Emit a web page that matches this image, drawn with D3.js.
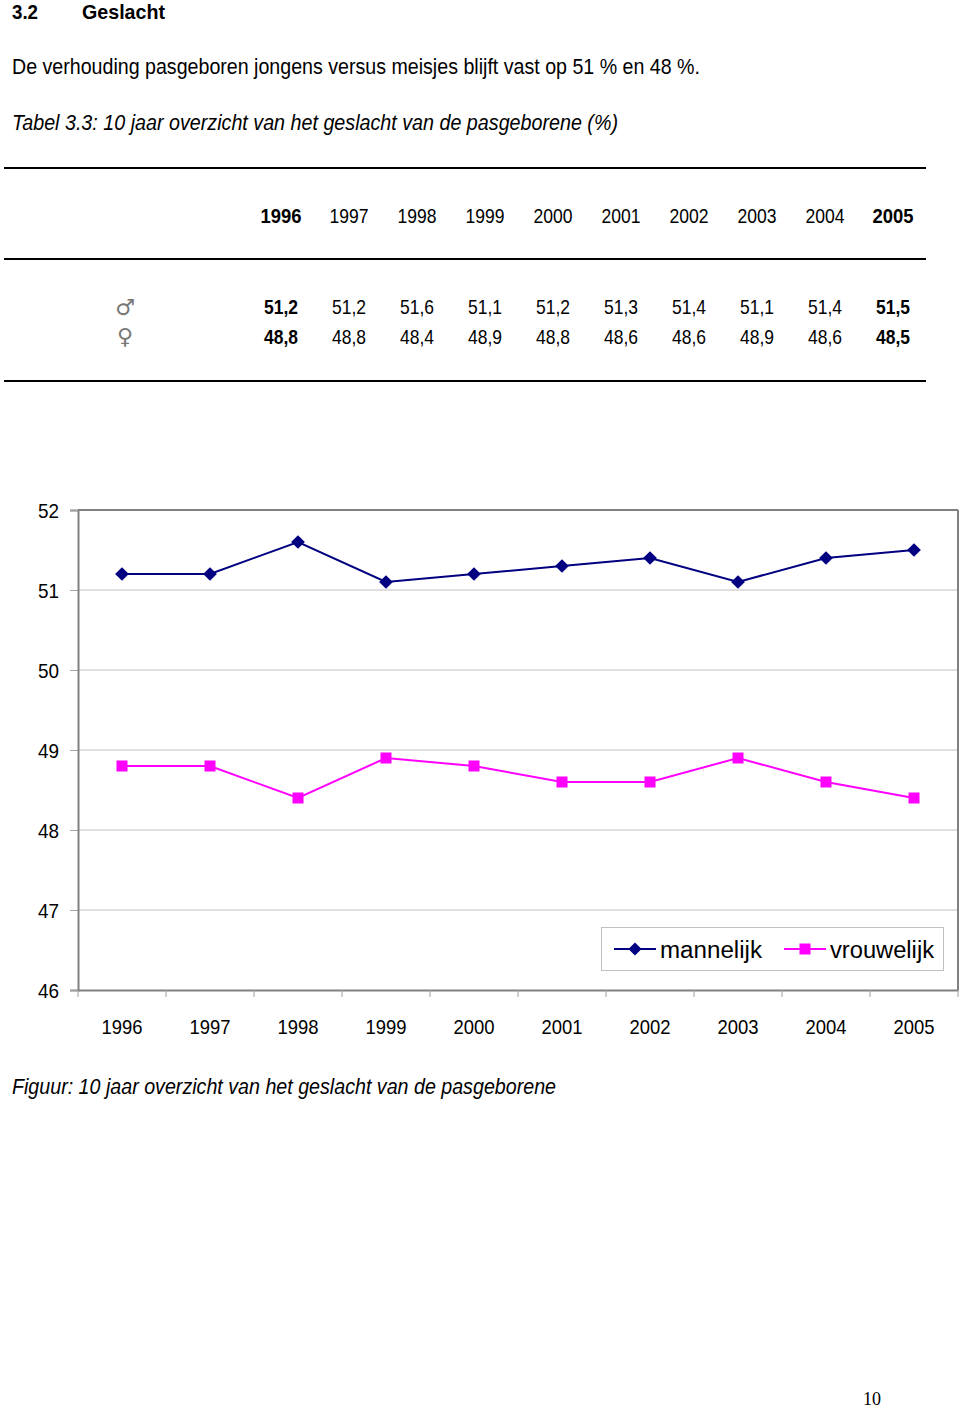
<!DOCTYPE html>
<html><head><meta charset="utf-8">
<script src="https://cdn.jsdelivr.net/npm/d3@7"></script>
<style>
body{margin:0;background:#fff;}
svg text{font-family:"Liberation Sans",Arial,sans-serif;fill:#000;}
</style></head>
<body>
<svg id="c" width="960" height="1409"></svg>
<script>
const years = ["1996","1997","1998","1999","2000","2001","2002","2003","2004","2005"];
const tableMale = ["51,2","51,2","51,6","51,1","51,2","51,3","51,4","51,1","51,4","51,5"];
const tableFemale = ["48,8","48,8","48,4","48,9","48,8","48,6","48,6","48,9","48,6","48,5"];
const male = [51.2,51.2,51.6,51.1,51.2,51.3,51.4,51.1,51.4,51.5];
const female = [48.8,48.8,48.4,48.9,48.8,48.6,48.6,48.9,48.6,48.4];
const yTicks = [46,47,48,49,50,51,52];
const boldYears = ["1996","2005"];

const svg = d3.select("#c");
function txt(x,y,s,size,w,opts={}){
  const t = svg.append("text").attr("x",x).attr("y",y).attr("font-size",size).text(s);
  if(w) t.attr("textLength",w).attr("lengthAdjust","spacingAndGlyphs");
  if(opts.bold) t.attr("font-weight","bold");
  if(opts.italic) t.attr("font-style","italic");
  if(opts.anchor) t.attr("text-anchor",opts.anchor);
  return t;
}

// Headings
txt(12,19,"3.2",21,26,{bold:true});
txt(82,19,"Geslacht",21,83,{bold:true});
txt(12,74,"De verhouding pasgeboren jongens versus meisjes blijft vast op 51 % en 48 %.",22,688);
txt(12,130,"Tabel 3.3: 10 jaar overzicht van het geslacht van de pasgeborene (%)",22,606,{italic:true});

// Table
[168,259,381].forEach(y=>svg.append("line").attr("x1",4).attr("x2",926).attr("y1",y).attr("y2",y).attr("stroke","#000").attr("stroke-width",2.2));
const tx = d3.scalePoint().domain(years).range([281,893]);
const isB = y => boldYears.includes(y);
svg.append("g").selectAll("text").data(years).join("text")
  .attr("x",d=>tx(d)).attr("y",223).attr("text-anchor","middle").attr("font-size",21)
  .attr("font-weight",d=>isB(d)?"bold":"normal")
  .attr("textLength",d=>isB(d)?41:39).attr("lengthAdjust","spacingAndGlyphs").text(d=>d);
[[tableMale,314],[tableFemale,344]].forEach(([arr,yy])=>{
  svg.append("g").selectAll("text").data(arr).join("text")
    .attr("x",(d,i)=>tx(years[i])).attr("y",yy).attr("text-anchor","middle").attr("font-size",21)
    .attr("font-weight",(d,i)=>isB(years[i])?"bold":"normal")
    .attr("textLength",34).attr("lengthAdjust","spacingAndGlyphs").text(d=>d);
});
svg.append("text").attr("x",125).attr("y",315).attr("text-anchor","middle").attr("font-size",22).style("fill","#777").style("font-family","'DejaVu Sans'").text("\u2642");
svg.append("text").attr("x",125).attr("y",344).attr("text-anchor","middle").attr("font-size",22).style("fill","#777").style("font-family","'DejaVu Sans'").text("\u2640");

// Chart
const L=78, R=958, T=510, B=990;
const x = d3.scaleBand().domain(years).range([L,R]);
const y = d3.scaleLinear().domain([46,52]).range([B,T]);
const g = svg.append("g");
g.selectAll("line.grid").data(yTicks.filter(d=>d>46 && d<52)).join("line")
  .attr("x1",L).attr("x2",R).attr("y1",d=>y(d)).attr("y2",d=>y(d)).attr("stroke","#c0c0c0").attr("stroke-width",1);
g.append("line").attr("x1",L).attr("x2",R).attr("y1",T).attr("y2",T).attr("stroke","#808080").attr("stroke-width",2);
g.append("line").attr("x1",R).attr("x2",R).attr("y1",T).attr("y2",B).attr("stroke","#808080").attr("stroke-width",2);
const yAxis = g.append("g").attr("transform",`translate(${L},0)`)
  .call(d3.axisLeft(y).tickValues(yTicks).tickSize(8).tickPadding(11).tickFormat(d3.format("d")));
yAxis.select(".domain").attr("stroke","#808080").attr("stroke-width",2);
yAxis.selectAll(".tick line").attr("stroke","#a0a0a0");
yAxis.selectAll("text").attr("font-size",21).attr("font-family",null).attr("dy","0.36em").attr("fill","#000")
  .attr("textLength",21).attr("lengthAdjust","spacingAndGlyphs");
const xAxis = g.append("g").attr("transform",`translate(0,${B})`)
  .call(d3.axisBottom(x).tickSize(0).tickPadding(29));
xAxis.select(".domain").attr("stroke","#808080").attr("stroke-width",2);
xAxis.selectAll("text").attr("font-size",21).attr("font-family",null).attr("fill","#000")
  .attr("textLength",41).attr("lengthAdjust","spacingAndGlyphs");
g.selectAll("line.xt").data(years.concat(["end"])).join("line")
  .attr("x1",(d,i)=>L+i*x.step()).attr("x2",(d,i)=>L+i*x.step())
  .attr("y1",B).attr("y2",B+7).attr("stroke","#a0a0a0").attr("stroke-width",1);

const cx = i => x(years[i])+x.bandwidth()/2;
const line = d3.line().x((d,i)=>cx(i)).y(d=>y(d));
g.append("path").datum(female).attr("d",line).attr("fill","none").attr("stroke","#ff00ff").attr("stroke-width",2);
g.append("path").datum(male).attr("d",line).attr("fill","none").attr("stroke","#000080").attr("stroke-width",2);
g.selectAll("rect.f").data(female).join("rect")
  .attr("x",(d,i)=>cx(i)-5.5).attr("y",d=>y(d)-5.5)
  .attr("width",11).attr("height",11).attr("fill","#ff00ff");
g.selectAll("path.m").data(male).join("path")
  .attr("d",d3.symbol(d3.symbolDiamond2,120))
  .attr("transform",(d,i)=>`translate(${cx(i)},${y(d)})`).attr("fill","#000080");

// Legend
const lg = svg.append("g");
lg.append("rect").attr("x",601.5).attr("y",927.5).attr("width",342).attr("height",43).attr("fill","#fff").attr("stroke","#c0c0c0");
lg.append("line").attr("x1",614).attr("x2",656).attr("y1",949).attr("y2",949).attr("stroke","#000080").attr("stroke-width",2);
lg.append("path").attr("d",d3.symbol(d3.symbolDiamond2,110)).attr("transform","translate(635,949)").attr("fill","#000080");
lg.append("text").attr("x",660).attr("y",958).attr("font-size",23).attr("textLength",102).attr("lengthAdjust","spacingAndGlyphs").text("mannelijk");
lg.append("line").attr("x1",784).attr("x2",826).attr("y1",949).attr("y2",949).attr("stroke","#ff00ff").attr("stroke-width",2);
lg.append("rect").attr("x",799.5).attr("y",943.5).attr("width",11).attr("height",11).attr("fill","#ff00ff");
lg.append("text").attr("x",830).attr("y",958).attr("font-size",23).attr("textLength",104).attr("lengthAdjust","spacingAndGlyphs").text("vrouwelijk");

txt(12,1094,"Figuur: 10 jaar overzicht van het geslacht van de pasgeborene",22,544,{italic:true});
svg.append("text").attr("x",872).attr("y",1405).attr("text-anchor","middle").attr("font-size",18).style("font-family","'Liberation Serif',serif").text("10");
</script>
</body></html>
